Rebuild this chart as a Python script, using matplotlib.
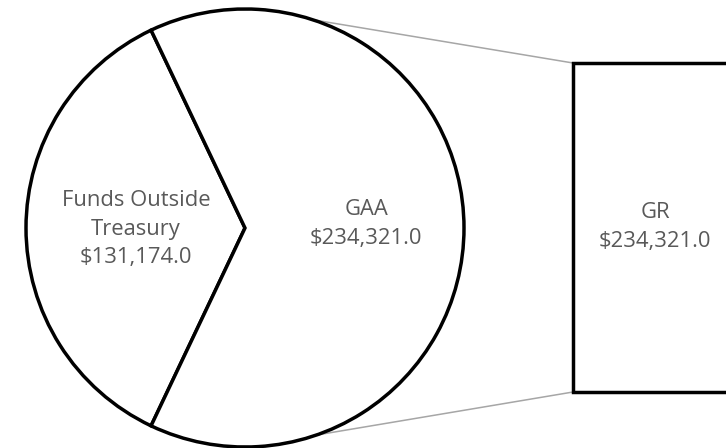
import matplotlib

matplotlib.use("Agg")
import matplotlib.pyplot as plt
import numpy as np

# pie slices (second one is exploded into the bar on the right)
pie_labels = ["Funds Outside\nTreasury", "GAA"]
pie_values = [131174.0, 234321.0]
bar_labels = ["GR"]
bar_values = [234321.0]

TEXT = "#595959"
W, H = 726, 448
FS = 15.8
LS = 1.48

plt.rcParams["font.family"] = ["Open Sans", "DejaVu Sans"]

fig = plt.figure(figsize=(W / 100, H / 100), dpi=100)
ax = fig.add_axes([0, 0, 1, 1])

center = (245, 220)
radius = 219
share = pie_values[0] / sum(pie_values)
start = 180 - share * 360 / 2

wedges, _ = ax.pie(
    pie_values,
    startangle=start,
    counterclock=True,
    center=center,
    radius=radius,
    colors=["white", "white"],
    wedgeprops=dict(edgecolor="black", linewidth=2.5),
)
for w in wedges:
    w.set_zorder(3)

ax.text(136, 448 - 229, f"{pie_labels[0]}\n${pie_values[0]:,.1f}",
        ha="center", va="center", color=TEXT, fontsize=FS, linespacing=LS, zorder=5)
ax.text(366, 448 - 224, f"{pie_labels[1]}\n${pie_values[1]:,.1f}",
        ha="center", va="center", color=TEXT, fontsize=FS, linespacing=LS, zorder=5)

# bar of pie
bx0, by0, by1 = 573, 448 - 392, 448 - 63
ax2 = fig.add_axes([bx0 / W, by0 / H, (800 - bx0) / W, (by1 - by0) / H])
ax2.bar([0], bar_values, width=1, color="white", edgecolor="black",
        linewidth=2.5, clip_on=False)
ax2.set_xlim(-0.5, 0.5)
ax2.set_ylim(0, bar_values[0])
ax2.axis("off")
fig.text(655 / W, 1 - 227 / H, f"{bar_labels[0]}\n${bar_values[0]:,.1f}",
         ha="center", va="center", color=TEXT, fontsize=FS, linespacing=LS, zorder=5)

# connector lines from the pie to the bar corners
for ang, yb in [(72, by1), (-71, by0)]:
    a = np.radians(ang)
    px = center[0] + radius * np.cos(a)
    py = center[1] + radius * np.sin(a)
    ax.plot([px, bx0], [py, yb], color="#a6a6a6", lw=1.1, zorder=1)

ax.set_xlim(0, W)
ax.set_ylim(0, H)
ax.set_aspect("equal")
ax.axis("off")

fig.savefig("out.png", dpi=100)
